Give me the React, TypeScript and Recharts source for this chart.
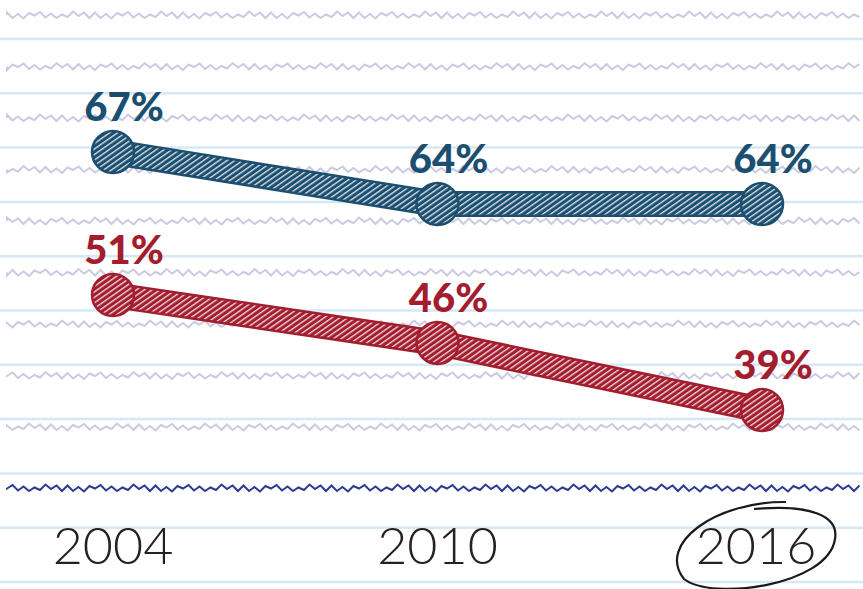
import React from "react";
import { LineChart, Line, XAxis, YAxis, LabelList } from "recharts";

const years = ["2004", "2010", "2016"];
const blueValues = [67, 64, 64];
const redValues = [51, 46, 39];

const data = years.map((year, i) => ({
  year,
  blue: blueValues[i],
  red: redValues[i],
}));

const W = 863;
const H = 589;
const BLUE = "#1c4f6f";
const RED = "#a31d2e";

// deterministic wobble amplitudes for the "handwritten" notebook lines
const wobble = [2.5, 3, 1, 3.5, 2, 0.5, 3, 2.5, 1.5, 3, 0.5, 2, 3.5, 1, 2.5, 3];

const wavyPath = (y: number, offset: number) => {
  let d = `M7 ${y}`;
  let k = offset;
  for (let x = 7; x <= W; x += 5.5) {
    const a = wobble[k % wobble.length];
    const sign = k % 2 === 0 ? -1 : 1;
    d += ` L${x.toFixed(1)} ${(y + sign * a).toFixed(1)}`;
    k++;
  }
  return d;
};

const Background = () => {
  const blueLines = Array.from({ length: 11 }, (_, i) => 39 + i * 54.3);
  const grayLines = Array.from({ length: 9 }, (_, i) => 15 + i * 51.5);
  return (
    <svg width={W} height={H} style={{ position: "absolute", left: 0, top: 0 }}>
      <defs>
        <pattern id="hatchBlue" patternUnits="userSpaceOnUse" width="4.5" height="4.5" patternTransform="rotate(55)">
          <rect width="4.5" height="4.5" fill={BLUE} />
          <rect width="1.3" height="4.5" fill="#ffffff" opacity="0.85" />
        </pattern>
        <pattern id="hatchRed" patternUnits="userSpaceOnUse" width="4.5" height="4.5" patternTransform="rotate(55)">
          <rect width="4.5" height="4.5" fill={RED} />
          <rect width="1.3" height="4.5" fill="#ffffff" opacity="0.85" />
        </pattern>
      </defs>
      {blueLines.map((y) => (
        <line key={y} x1={0} x2={W} y1={y} y2={y} stroke="#d7e8f5" strokeWidth={2.5} />
      ))}
      {grayLines.map((y, i) => (
        <path key={y} d={wavyPath(y, i * 3)} fill="none" stroke="#cacae3" strokeWidth={2} />
      ))}
      <path d={wavyPath(488, 5)} fill="none" stroke="#2b3a92" strokeWidth={2} />
    </svg>
  );
};

const makeLabel = (color: string) => (props: any) => {
  const { x, y, value } = props;
  return (
    <text
      x={x + 11}
      y={y - 31}
      textAnchor="middle"
      fill={color}
      fontFamily="Lato"
      fontWeight={900}
      fontSize={40}
    >
      {value}%
    </text>
  );
};

const makeDot = (color: string, hatch: string) => (props: any) => {
  const { cx, cy, index } = props;
  return <circle key={index} cx={cx} cy={cy} r={21} fill={`url(#${hatch})`} stroke={color} strokeWidth={2.5} />;
};

const YearTick = (props: any) => {
  const { x, y, payload, index } = props;
  const last = index === years.length - 1;
  const tx = last ? x - 6 : x;
  return (
    <g>
      <text
        x={tx}
        y={y + 75}
        textAnchor="middle"
        fill="#222222"
        fontFamily="Lato"
        fontWeight={300}
        fontSize={52}
      >
        {payload.value}
      </text>
      {last && (
        <path
          d={`M${tx + 30} ${y + 13} C ${tx - 40} ${y + 12}, ${tx - 100} ${y + 55}, ${tx - 72} ${y + 90} C ${tx - 45} ${y + 112}, ${tx + 72} ${y + 97}, ${tx + 79} ${y + 50} C ${tx + 83} ${y + 27}, ${tx + 55} ${y + 15}, ${tx - 2} ${y + 20}`}
          fill="none"
          stroke="#1a1a1a"
          strokeWidth={2.2}
        />
      )}
    </g>
  );
};

export default function App() {
  return (
    <div style={{ position: "fixed", left: 0, top: 0, width: W, height: H, background: "#ffffff" }}>
      <Background />
      <div style={{ position: "absolute", left: 0, top: 0 }}>
        <LineChart width={W} height={H} data={data} margin={{ top: 0, right: 0, bottom: 0, left: 0 }}>
          <XAxis
            dataKey="year"
            height={100}
            axisLine={false}
            tickLine={false}
            tickSize={0}
            tickMargin={0}
            padding={{ left: 113, right: 101 }}
            interval={0}
            tick={<YearTick />}
          />
          <YAxis yAxisId="blue" hide type="number" domain={[47.55, 75.77]} allowDataOverflow />
          <YAxis yAxisId="red" hide type="number" domain={[30.75, 81.79]} allowDataOverflow />
          <Line
            yAxisId="blue"
            dataKey="blue"
            type="linear"
            stroke={BLUE}
            strokeWidth={26}
            dot={false}
            activeDot={false}
            isAnimationActive={false}
          />
          <Line
            yAxisId="blue"
            dataKey="blue"
            type="linear"
            stroke="url(#hatchBlue)"
            strokeWidth={21}
            dot={makeDot(BLUE, "hatchBlue")}
            activeDot={false}
            isAnimationActive={false}
          >
            <LabelList dataKey="blue" content={makeLabel(BLUE)} />
          </Line>
          <Line
            yAxisId="red"
            dataKey="red"
            type="linear"
            stroke={RED}
            strokeWidth={26}
            dot={false}
            activeDot={false}
            isAnimationActive={false}
          />
          <Line
            yAxisId="red"
            dataKey="red"
            type="linear"
            stroke="url(#hatchRed)"
            strokeWidth={21}
            dot={makeDot(RED, "hatchRed")}
            activeDot={false}
            isAnimationActive={false}
          >
            <LabelList dataKey="red" content={makeLabel(RED)} />
          </Line>
        </LineChart>
      </div>
    </div>
  );
}
